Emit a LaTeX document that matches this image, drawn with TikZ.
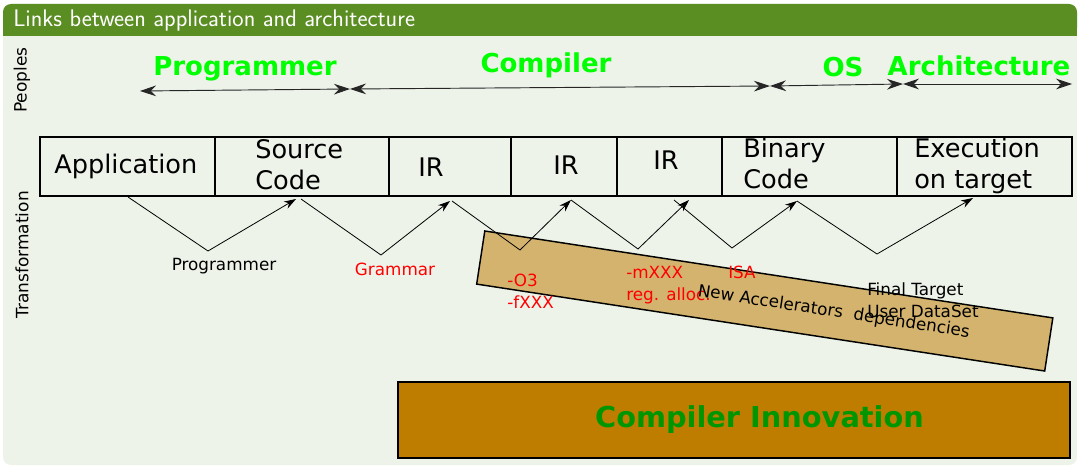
\documentclass[tikz,border=0pt]{standalone}
\usepackage{fontspec}
\setmainfont{DejaVu Sans}
\usetikzlibrary{arrows.meta}
\definecolor{bodybg}{RGB}{237,243,233}
\definecolor{headbg}{RGB}{90,141,34}
\definecolor{tanfill}{RGB}{212,179,110}
\definecolor{innovfill}{RGB}{191,125,0}
\definecolor{innovtxt}{RGB}{0,150,0}
\definecolor{peoplegreen}{RGB}{0,255,0}
\tikzset{
  stagebox/.style={draw, line width=1pt, inner sep=0pt, outer sep=0pt, minimum height=44.25pt},
  stagetxt/.style={inner sep=0pt, anchor=base west, align=left, font=\fontsize{19.2pt}{24pt}\selectfont},
  peoplelbl/.style={inner sep=0pt, anchor=base, text=peoplegreen, font=\bfseries\fontsize{19.5pt}{24pt}\selectfont},
  smalllbl/.style={inner sep=0pt, anchor=base west, align=left, font=\fontsize{12.6pt}{16.5pt}\selectfont},
  redlbl/.style={smalllbl, text=red},
  sidelbl/.style={inner sep=0pt, rotate=90, font=\fontsize{12.75pt}{15pt}\selectfont},
  harr/.style={{Stealth[length=12pt,width=8pt]}-{Stealth[length=12pt,width=8pt]}, line width=0.7pt, black!85},
  zz/.style={-{Stealth[length=9pt,width=6pt]}, line width=0.6pt},
}
\begin{document}
\begin{tikzpicture}[x=0.75pt,y=-0.75pt]
\useasboundingbox (0,0) rectangle (1079,467);
% block background
\fill[bodybg, rounded corners=6pt] (3,4) rectangle (1077,465);
\fill[headbg, rounded corners=6pt] (3,4) rectangle (1077,36);
\fill[headbg] (3,24) rectangle (1077,36);
\node[inner sep=0pt, anchor=base west, text=white, font=\sffamily\fontsize{18pt}{21pt}\selectfont] (title) at (13,27) {Links between application and architecture};

% side labels
\node[sidelbl] (peoples) at (22,80) {Peoples};
\node[sidelbl] (transf) at (22,255) {Transformation};

% people labels
\node[peoplelbl] (pprog) at (245,76) {Programmer};
\node[peoplelbl] (pcomp) at (546,73) {Compiler};
\node[peoplelbl] (pos) at (843,77) {OS};
\node[peoplelbl] (parch) at (979,76) {Architecture};

\coordinate (h0) at (140,91);
\coordinate (h1) at (350,89);
\coordinate (h2) at (770,86);
\coordinate (h3) at (903,84);
\coordinate (h4) at (1072,84);
\draw[harr] (h0) -- (h1);
\draw[harr] (h1) -- (h2);
\draw[harr] (h2) -- (h3);
\draw[harr] (h3) -- (h4);

% stage boxes
\node[stagebox, minimum width=131.25pt] (app) at (127.5,166.5) {};
\node[stagebox, minimum width=130.5pt] (src) at (302,166.5) {};
\node[stagebox, minimum width=91.5pt] (ir1) at (450,166.5) {};
\node[stagebox, minimum width=79.5pt] (ir2) at (564,166.5) {};
\node[stagebox, minimum width=78.75pt] (ir3) at (669.5,166.5) {};
\node[stagebox, minimum width=131.25pt] (bin) at (809.5,166.5) {};
\node[stagebox, minimum width=131.25pt] (exe) at (984.5,166.5) {};

\node[stagetxt] (tapp) at (54,173) {Application};
\node[stagetxt] (tsrc) at (255,190) {Source\\Code};
\node[stagetxt] (tir1) at (418,176) {IR};
\node[stagetxt] (tir2) at (553,174) {IR};
\node[stagetxt] (tir3) at (653,170) {IR};
\node[stagetxt] (tbin) at (743,189) {Binary\\Code};
\node[stagetxt] (texe) at (914,189) {Execution\\on target};

% accelerators band
\node[draw, fill=tanfill, line width=1.1pt, rotate=-8.7, inner sep=0pt, minimum width=431pt, minimum height=40.3pt] (accel) at (764.75,301) {};

% compiler innovation
\node[draw, fill=innovfill, line width=1pt, inner sep=0pt, minimum width=504pt, minimum height=57pt] (innov) at (734,420) {};
\node[inner sep=0pt, anchor=base, text=innovtxt, font=\bfseries\fontsize{21.6pt}{26pt}\selectfont] (tinnov) at (759.5,427) {Compiler Innovation};

% zigzag transformations
\coordinate (z1s) at (128,197); \coordinate (z1v) at (208,251); \coordinate (z1e) at (296,199);
\coordinate (z2s) at (301,199); \coordinate (z2v) at (381,255); \coordinate (z2e) at (450,201);
\coordinate (z3s) at (452,201); \coordinate (z3v) at (520,250); \coordinate (z3e) at (571,200);
\coordinate (z4s) at (571,200); \coordinate (z4v) at (638,249); \coordinate (z4e) at (689,200);
\coordinate (z5s) at (674,200); \coordinate (z5v) at (732,248); \coordinate (z5e) at (797,201);
\coordinate (z6s) at (797,201); \coordinate (z6v) at (877,254); \coordinate (z6e) at (973,198);
\draw[zz] (z1s) -- (z1v) -- (z1e);
\draw[zz] (z2s) -- (z2v) -- (z2e);
\draw[zz] (z3s) -- (z3v) -- (z3e);
\draw[zz] (z4s) -- (z4v) -- (z4e);
\draw[zz] (z5s) -- (z5v) -- (z5e);
\draw[zz] (z6s) -- (z6v) -- (z6e);

% labels
\node[smalllbl, anchor=base] (lprog) at (224,270) {Programmer};
\node[redlbl, anchor=base] (lgram) at (395,275) {Grammar};
\node[redlbl] (lo3) at (507,308) {-O3\\-fXXX};
\node[redlbl] (lmx) at (626,300) {-mXXX\\reg. alloc.};
\node[redlbl] (lisa) at (728,278) {ISA};
\node[smalllbl] (lfin) at (867,317) {Final Target\\User DataSet};
\node[smalllbl, rotate=-8.7] (lacc) at (697,296) {New Accelerators\ \ dependencies};
\end{tikzpicture}
\end{document}
